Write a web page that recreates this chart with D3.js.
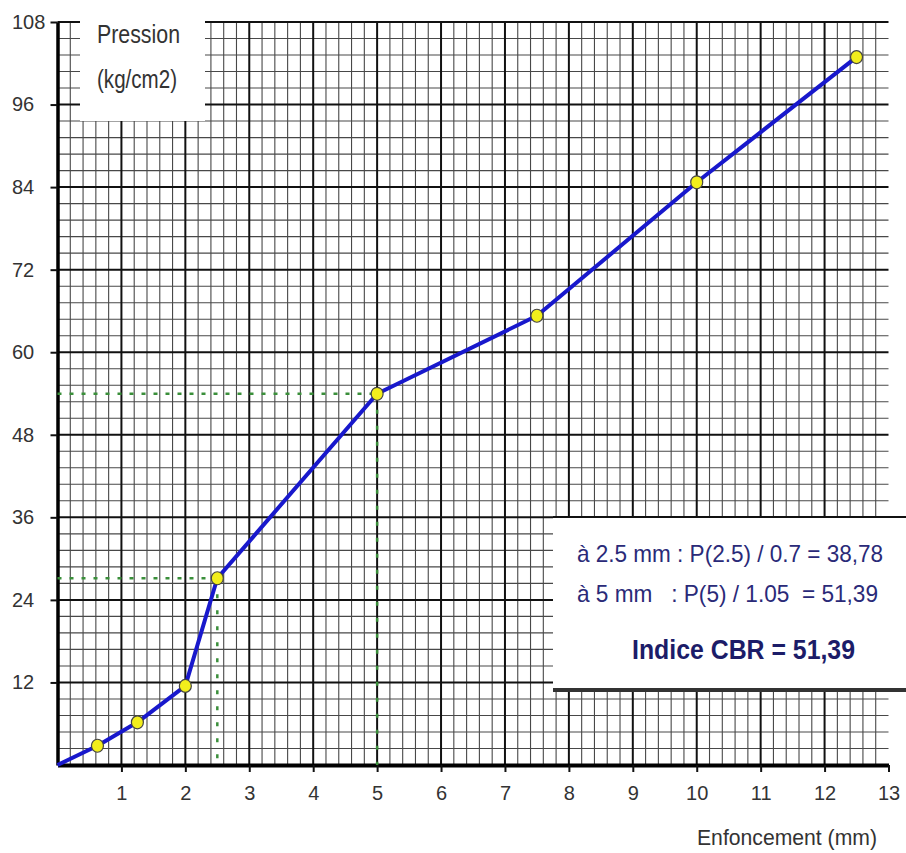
<!DOCTYPE html>
<html>
<head>
<meta charset="utf-8">
<script src="https://cdn.jsdelivr.net/npm/d3@7/dist/d3.min.js"></script>
<style>
  html, body { margin: 0; padding: 0; background: #fff; }
  svg { display: block; font-family: "Liberation Sans", Arial, sans-serif; }
</style>
</head>
<body>
<svg id="chart" width="906" height="853"></svg>
<script>
// CBR test: pressure (kg/cm2) against penetration (mm)
const penetration = [0, 0.625, 1.25, 2, 2.5, 5, 7.5, 10, 12.5];
const pressure    = [0, 2.8, 6.2, 11.5, 27.146, 53.96, 65.3, 84.7, 102.9];

const xTicks = [1, 2, 3, 4, 5, 6, 7, 8, 9, 10, 11, 12, 13];
const yTicks = [12, 24, 36, 48, 60, 72, 84, 96, 108];

// reference penetrations used for the CBR index
const refPenetration = [2.5, 5];
const refPressure    = [27.146, 53.96];

const resultLines = [
  "à 2.5 mm : P(2.5) / 0.7 = 38,78",
  "à 5 mm   : P(5) / 1.05  = 51,39"
];
const resultTitle = "Indice CBR = 51,39";

const svg = d3.select("#chart");
const x = d3.scaleLinear().domain([0, 13]).range([57.5, 888.5]);
const y = d3.scaleLinear().domain([0, 108]).range([765, 22]);

const data = penetration.map((p, i) => ({ p, v: pressure[i] }));

// ---- millimetre grid ----
const grid = svg.append("g");
const minorX = d3.range(1, 65).map(i => i / 5).filter(v => Math.abs(v - Math.round(v)) > 1e-6);
const minorY = d3.range(1, 45).map(i => i * 2.4).filter(v => Math.abs(v / 12 - Math.round(v / 12)) > 1e-6);

grid.selectAll("line.vminor").data(minorX).join("line")
  .attr("x1", d => x(d)).attr("x2", d => x(d))
  .attr("y1", y(0)).attr("y2", y(108))
  .attr("stroke", "#484848").attr("stroke-width", 1.1);
grid.selectAll("line.hminor").data(minorY).join("line")
  .attr("x1", x(0)).attr("x2", x(13))
  .attr("y1", d => y(d)).attr("y2", d => y(d))
  .attr("stroke", "#484848").attr("stroke-width", 1.1);
grid.selectAll("line.vmajor").data(xTicks.filter(d => d < 13)).join("line")
  .attr("x1", d => x(d)).attr("x2", d => x(d))
  .attr("y1", y(0)).attr("y2", y(108))
  .attr("stroke", "#111").attr("stroke-width", 2);
grid.selectAll("line.hmajor").data(yTicks).join("line")
  .attr("x1", x(0)).attr("x2", x(13))
  .attr("y1", d => y(d)).attr("y2", d => y(d))
  .attr("stroke", "#111").attr("stroke-width", 2);

// ---- axes ----
const yAxis = svg.append("g")
  .attr("transform", `translate(${x(0)},0)`)
  .call(d3.axisLeft(y).tickValues(yTicks).tickSize(7).tickSizeOuter(0));
yAxis.select(".domain").attr("stroke", "#000").attr("stroke-width", 3.5);
yAxis.selectAll(".tick line").attr("stroke", "#111").attr("stroke-width", 2);
yAxis.selectAll(".tick text")
  .attr("text-anchor", "start")
  .attr("x", 12 - x(0))
  .attr("font-size", 20)
  .attr("font-family", "'Liberation Sans', Arial, sans-serif")
  .attr("fill", "#333");

const xAxis = svg.append("g")
  .attr("transform", `translate(0,${y(0)})`)
  .call(d3.axisBottom(x).tickValues(xTicks).tickSize(7).tickSizeOuter(0).tickFormat(d3.format("d")));
xAxis.select(".domain").attr("stroke", "#000").attr("stroke-width", 4);
xAxis.selectAll(".tick line").attr("stroke", "#111").attr("stroke-width", 2);
xAxis.selectAll(".tick text")
  .attr("y", 21)
  .attr("font-size", 20)
  .attr("font-family", "'Liberation Sans', Arial, sans-serif")
  .attr("fill", "#333");

// ---- unit label in the top-left corner ----
svg.append("rect").attr("x", 80).attr("y", 0).attr("width", 125).attr("height", 121).attr("fill", "#fff");
svg.append("text").attr("x", 97).attr("y", 43)
  .attr("font-size", 25).attr("fill", "#333")
  .attr("textLength", 83).attr("lengthAdjust", "spacingAndGlyphs")
  .text("Pression");
svg.append("text").attr("x", 97).attr("y", 88)
  .attr("font-size", 25).attr("fill", "#333")
  .attr("textLength", 80).attr("lengthAdjust", "spacingAndGlyphs")
  .text("(kg/cm2)");

// ---- axis title ----
svg.append("text").attr("x", 697).attr("y", 845)
  .attr("font-size", 22).attr("fill", "#333")
  .attr("textLength", 180).attr("lengthAdjust", "spacingAndGlyphs")
  .text("Enfoncement (mm)");

// ---- dotted read-off lines at 2.5 mm and 5 mm ----
const guides = svg.append("g").attr("stroke", "#3a8f3a").attr("stroke-width", 2.5).attr("fill", "none");
refPenetration.forEach((p, i) => {
  guides.append("line")
    .attr("x1", x(0)).attr("x2", x(p))
    .attr("y1", y(refPressure[i])).attr("y2", y(refPressure[i]))
    .attr("stroke-dasharray", "4,8");
  guides.append("line")
    .attr("x1", x(p)).attr("x2", x(p))
    .attr("y1", y(refPressure[i])).attr("y2", y(0))
    .attr("stroke-dasharray", "4,12");
});

// ---- curve and measured points ----
svg.append("path").datum(data)
  .attr("fill", "none").attr("stroke", "#1818cc").attr("stroke-width", 4)
  .attr("stroke-linejoin", "round")
  .attr("d", d3.line().x(d => x(d.p)).y(d => y(d.v)));

svg.selectAll("ellipse.pt").data(data.slice(1)).join("ellipse")
  .attr("cx", d => x(d.p)).attr("cy", d => y(d.v))
  .attr("rx", 6).attr("ry", 6.5)
  .attr("fill", "#f2ee1c").attr("stroke", "#444").attr("stroke-width", 1.2);

// ---- result box ----
const box = svg.append("g");
box.append("rect").attr("x", 553).attr("y", 517).attr("width", 353).attr("height", 173).attr("fill", "#fff");
box.append("line").attr("x1", 553).attr("x2", 906).attr("y1", 517).attr("y2", 517)
  .attr("stroke", "#111").attr("stroke-width", 2);
box.append("line").attr("x1", 553).attr("x2", 906).attr("y1", 690).attr("y2", 690)
  .attr("stroke", "#333").attr("stroke-width", 4);

const lineY = [562, 602];
const lineW = [306, 301];
resultLines.forEach((t, i) => {
  box.append("text").attr("x", 577).attr("y", lineY[i])
    .attr("font-size", 24).attr("fill", "#2a2a78")
    .style("white-space", "pre")
    .attr("textLength", lineW[i]).attr("lengthAdjust", "spacingAndGlyphs")
    .text(t);
});
box.append("text").attr("x", 632).attr("y", 659)
  .attr("font-size", 27).attr("font-weight", "bold").attr("fill", "#1c1c68")
  .attr("textLength", 223).attr("lengthAdjust", "spacingAndGlyphs")
  .text(resultTitle);
</script>
</body>
</html>
